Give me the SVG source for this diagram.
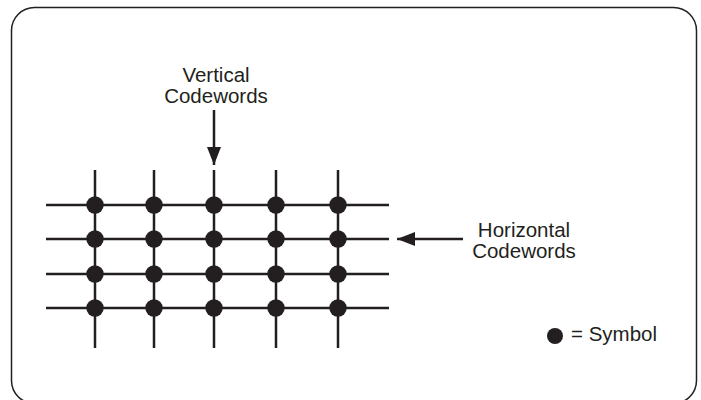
<svg xmlns="http://www.w3.org/2000/svg" width="701" height="400" viewBox="0 0 701 400">
<style>
.frame{fill:none;stroke:#231f20;stroke-width:1.5}
.grid line{stroke:#231f20;stroke-width:2.5}
.dot{fill:#231f20}
.lbl{font-family:"Liberation Sans",Arial,sans-serif;font-size:20.5px;fill:#231f20}
.arr{stroke:#231f20;stroke-width:2.5}
</style>
<defs>
<marker id="ah" viewBox="0 0 18 14" refX="18" refY="7" markerWidth="18" markerHeight="14" markerUnits="userSpaceOnUse" orient="auto">
<path d="M0,0 L18,7 L0,14 z" fill="#231f20"/>
</marker>
</defs>
<rect class="frame" x="11.5" y="7.5" width="685" height="396" rx="23"/>
<g id="grid" class="grid">
<line x1="46" y1="205" x2="389" y2="205"/>
<line x1="46" y1="239" x2="389" y2="239"/>
<line x1="46" y1="274" x2="389" y2="274"/>
<line x1="46" y1="308" x2="389" y2="308"/>
<line x1="95" y1="170" x2="95" y2="348"/>
<line x1="154" y1="170" x2="154" y2="348"/>
<line x1="214" y1="170" x2="214" y2="348"/>
<line x1="276" y1="170" x2="276" y2="348"/>
<line x1="338" y1="170" x2="338" y2="348"/>
</g>
<g id="symbols" class="dot">
<circle cx="95" cy="205" r="8.7"/><circle cx="154" cy="205" r="8.7"/><circle cx="214" cy="205" r="8.7"/><circle cx="276" cy="205" r="8.7"/><circle cx="338" cy="205" r="8.7"/>
<circle cx="95" cy="239" r="8.7"/><circle cx="154" cy="239" r="8.7"/><circle cx="214" cy="239" r="8.7"/><circle cx="276" cy="239" r="8.7"/><circle cx="338" cy="239" r="8.7"/>
<circle cx="95" cy="274" r="8.7"/><circle cx="154" cy="274" r="8.7"/><circle cx="214" cy="274" r="8.7"/><circle cx="276" cy="274" r="8.7"/><circle cx="338" cy="274" r="8.7"/>
<circle cx="95" cy="308" r="8.7"/><circle cx="154" cy="308" r="8.7"/><circle cx="214" cy="308" r="8.7"/><circle cx="276" cy="308" r="8.7"/><circle cx="338" cy="308" r="8.7"/>
</g>
<g id="vertical-label">
<text class="lbl" x="216" y="82" text-anchor="middle">Vertical</text>
<text class="lbl" x="216" y="103" text-anchor="middle">Codewords</text>
</g>
<g id="horizontal-label">
<text class="lbl" x="524" y="237" text-anchor="middle">Horizontal</text>
<text class="lbl" x="524" y="258" text-anchor="middle">Codewords</text>
</g>
<g id="legend">
<circle class="dot" cx="555" cy="336" r="8"/>
<text class="lbl" x="571" y="341">= Symbol</text>
</g>
<g id="connectors">
<line class="arr" x1="214" y1="110" x2="214" y2="165" marker-end="url(#ah)"/>
<line class="arr" x1="463" y1="239" x2="397" y2="239" marker-end="url(#ah)"/>
</g>
</svg>
